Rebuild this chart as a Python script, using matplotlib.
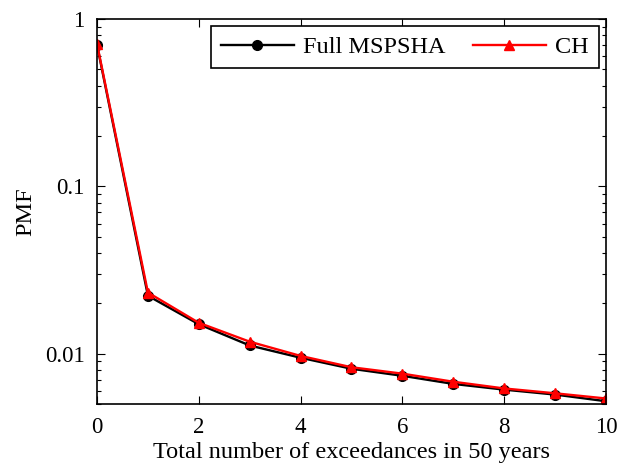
import numpy as np
import matplotlib
matplotlib.use("Agg")
import matplotlib.pyplot as plt
from matplotlib.ticker import LogLocator, FixedLocator, FixedFormatter, NullFormatter

# date
n_exc = [0, 1, 2, 3, 4, 5, 6, 7, 8, 9, 10]
pmf_full = [0.70, 0.0222, 0.0150, 0.0112, 0.00946, 0.00813, 0.00738, 0.0066, 0.0061, 0.0057, 0.0052]
pmf_ch = [0.71, 0.0232, 0.0153, 0.0118, 0.0097, 0.0083, 0.0076, 0.0068, 0.0062, 0.0058, 0.0054]

plt.rcParams["font.family"] = ["Liberation Serif", "DejaVu Serif"]
plt.rcParams["font.size"] = 17.5

fig = plt.figure(figsize=(6.26, 4.65), dpi=100)
ax = fig.add_axes([0.155, 0.131, 0.813, 0.828])

ax.plot(n_exc, pmf_full, color="black", marker="o", markersize=7, linewidth=1.7, label="Full MSPSHA")
ax.plot(n_exc, pmf_ch, color="red", marker="^", markersize=7.5, linewidth=1.7, label="CH")

ax.set_yscale("log")
ax.set_xlim(0, 10)
ax.set_ylim(0.005, 1)
ax.set_xticks([0, 2, 4, 6, 8, 10])
ax.yaxis.set_major_locator(FixedLocator([0.01, 0.1, 1]))
ax.yaxis.set_major_formatter(FixedFormatter(["0.01", "0.1", "1"]))
ax.yaxis.set_minor_locator(LogLocator(base=10, subs=np.arange(2, 10)))
ax.yaxis.set_minor_formatter(NullFormatter())

ax.tick_params(which="both", direction="in", top=True, right=True, width=0.8)
ax.tick_params(which="major", length=6, pad=9, labelsize=16.5)
ax.tick_params(which="minor", length=3)
for s in ax.spines.values():
    s.set_linewidth(1.2)

ax.set_xlabel("Total number of exceedances in 50 years", labelpad=3)
ax.set_ylabel("PMF", labelpad=6)

leg = ax.legend(loc="upper right", ncol=2, fancybox=False, edgecolor="black",
                framealpha=1, handlelength=3.0, handletextpad=0.4, columnspacing=1.1,
                borderaxespad=0.3, borderpad=0.4)
leg.get_frame().set_linewidth(1.2)

fig.savefig("out.png", dpi=100)
